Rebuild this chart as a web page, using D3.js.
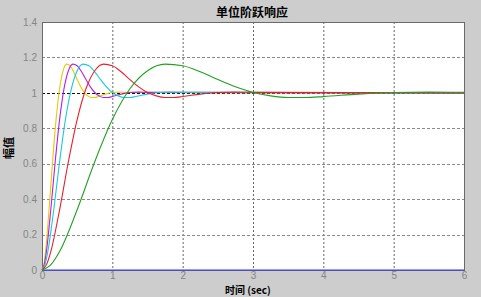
<!DOCTYPE html>
<html>
  <head>
    <meta charset="utf-8">
    <title>单位阶跃响应</title>
    <script src="https://d3js.org/d3.v7.min.js"></script>
    <style>
      body { margin: 0; background: #cdcdcd; }
      svg { display: block; }
      .tick text { font-family: "Liberation Sans", Arial, sans-serif; font-size: 10px; fill: #858585; }
      .cjk { font-family: "Noto Sans CJK SC", sans-serif; fill: #000; }
    </style>
  </head>
  <body>
    <svg width="481" height="297"></svg>
    <script>
      // axis ticks
      var xTicks = [0, 1, 2, 3, 4, 5, 6];
      var yTicks = [0, 0.2, 0.4, 0.6, 0.8, 1, 1.2, 1.4];

      // step response shape (same overshoot for every curve)
      var response = [0, 0.029, 0.104, 0.340, 0.611, 0.849, 1.023, 1.125, 1.162, 1.153,
        1.119, 1.075, 1.034, 1.002, 0.983, 0.974, 0.974, 0.979, 0.993, 1.002, 1.004, 1.003, 1.0];

      // time points of each curve (sec)
      var tGreen = [0, 0.125, 0.25, 0.5, 0.75, 1, 1.25, 1.5, 1.75, 2, 2.25, 2.5, 2.75, 3,
        3.25, 3.5, 3.75, 4, 4.5, 5, 5.5, 6, 6];
      var tRed = [0, 0.0625, 0.125, 0.25, 0.375, 0.5, 0.625, 0.75, 0.875, 1, 1.125, 1.25,
        1.375, 1.5, 1.625, 1.75, 1.875, 2, 2.25, 2.5, 2.75, 3, 6];
      var tCyan = [0, 0.042, 0.083, 0.167, 0.25, 0.333, 0.417, 0.5, 0.583, 0.667, 0.75,
        0.833, 0.917, 1, 1.083, 1.167, 1.25, 1.333, 1.5, 1.667, 1.833, 2, 6];
      var tMagenta = [0, 0.031, 0.0625, 0.125, 0.1875, 0.25, 0.3125, 0.375, 0.4375, 0.5,
        0.5625, 0.625, 0.6875, 0.75, 0.8125, 0.875, 0.9375, 1, 1.125, 1.25, 1.375, 1.5, 6];
      var tYellow = [0, 0.025, 0.05, 0.1, 0.15, 0.2, 0.25, 0.3, 0.35, 0.4, 0.45, 0.5, 0.55,
        0.6, 0.65, 0.7, 0.75, 0.8, 0.9, 1.0, 1.1, 1.2, 6];
      var tBlue = [0, 6];
      var zeroLine = [0, 0];

      var series = [
        { t: tBlue, v: zeroLine, color: "#3434ff" },
        { t: tYellow, v: response, color: "#e6cc00" },
        { t: tMagenta, v: response, color: "#b41ee6" },
        { t: tCyan, v: response, color: "#1ec8dc" },
        { t: tRed, v: response, color: "#e8202a" },
        { t: tGreen, v: response, color: "#22a022" }
      ];

      var margin = { top: 22, right: 17, bottom: 27, left: 42 },
        width = 481 - margin.left - margin.right,
        height = 297 - margin.top - margin.bottom;

      var svg = d3.select("svg");
      var g = svg.append("g")
        .attr("transform", "translate(" + margin.left + "," + margin.top + ")");

      var x = d3.scaleLinear().domain([0, 6]).range([0, width]);
      var y = d3.scaleLinear().domain([0, 1.4]).range([height, 0]);

      // plot background
      g.append("rect")
        .attr("width", width)
        .attr("height", height)
        .style("fill", "#fff");

      // grid
      g.selectAll("line.vgrid")
        .data(xTicks.slice(1, -1))
        .enter()
        .append("line")
        .attr("x1", function (d) { return x(d) + 0.5; })
        .attr("x2", function (d) { return x(d) + 0.5; })
        .attr("y1", 0)
        .attr("y2", height)
        .style("stroke", "#666")
        .style("stroke-width", 1)
        .style("stroke-dasharray", "2,2");
      g.selectAll("line.hgrid")
        .data(yTicks.slice(1, -1))
        .enter()
        .append("line")
        .attr("x1", 0)
        .attr("x2", width)
        .attr("y1", function (d) { return Math.round(y(d)) + 0.5; })
        .attr("y2", function (d) { return Math.round(y(d)) + 0.5; })
        .style("stroke", function (d) { return d === 1 ? "#111" : "#8a8a8a"; })
        .style("stroke-width", 1)
        .style("stroke-dasharray", "3,2");

      // axis labels
      g.append("g")
        .attr("transform", "translate(0," + height + ")")
        .call(d3.axisBottom(x).tickValues(xTicks).tickSize(0).tickPadding(2).tickFormat(d3.format("d")))
        .call(function (a) { a.select(".domain").remove(); });
      g.append("g")
        .call(d3.axisLeft(y).tickValues(yTicks).tickSize(0).tickPadding(5).tickFormat(function (d) { return String(+d.toFixed(1)); }))
        .call(function (a) { a.select(".domain").remove(); });

      // box
      g.append("rect")
        .attr("x", 0.5)
        .attr("y", 0.5)
        .attr("width", width)
        .attr("height", height)
        .style("fill", "none")
        .style("stroke", "#6a6a6a")
        .style("stroke-width", 1);

      // curves
      var line = d3.line()
        .x(function (d) { return x(d[0]); })
        .y(function (d) { return y(d[1]); })
        .curve(d3.curveMonotoneX);

      series.forEach(function (s) {
        g.append("path")
          .datum(s.t.map(function (t, i) { return [t, s.v[i]]; }))
          .attr("d", line)
          .style("fill", "none")
          .style("stroke", s.color)
          .style("stroke-width", 1.1);
      });

      // titles
      svg.append("text")
        .attr("class", "cjk")
        .attr("x", 252)
        .attr("y", 17)
        .style("text-anchor", "middle")
        .style("font-size", "12px")
        .style("font-weight", "bold")
        .text("单位阶跃响应");
      svg.append("text")
        .attr("class", "cjk")
        .attr("x", 225)
        .attr("y", 294)
        .style("font-size", "10px")
        .style("font-weight", "bold")
        .text("时间 (sec)");
      svg.append("text")
        .attr("class", "cjk")
        .attr("transform", "translate(13,148) rotate(-90)")
        .style("text-anchor", "middle")
        .style("font-size", "11px")
        .style("font-weight", "bold")
        .text("幅值");
    </script>
  </body>
</html>
